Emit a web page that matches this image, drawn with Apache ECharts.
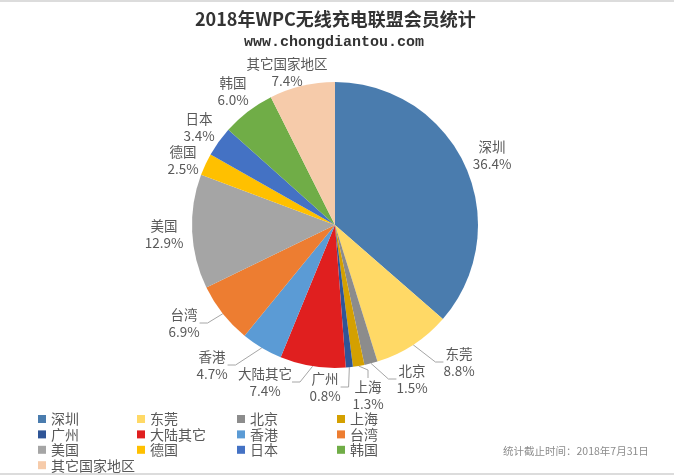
<!DOCTYPE html>
<html><head><meta charset="utf-8">
<style>html,body{margin:0;padding:0;background:#fff}#c{width:674px;height:475px}</style>
<script src="https://cdn.jsdelivr.net/npm/echarts@6/dist/echarts.min.js"></script>
</head><body><div id="c"></div>
<script>
const categories=['深圳','东莞','北京','上海','广州','大陆其它','香港','台湾','美国','德国','日本','韩国','其它国家地区'];
const shares=[36.4,8.8,1.5,1.3,0.8,7.4,4.7,6.9,12.9,2.5,3.4,6.0,7.4];
const colors=['#4a7cae','#ffd966','#8c8c8c','#d4a000','#2f5597','#e01f1f','#5b9bd5','#ed7d31','#a5a5a5','#ffc000','#4472c4','#70ad47','#f6cbaa'];
const labelSpots=[[492,155],[459,362],[412,379],[368,395],[325,387],[265,382],[212,365],[184,323],[164,234],[183,160],[199,127],[233,91],[287,72]];
const withLine=['东莞','北京','上海','广州','大陆其它','香港','台湾'];
const labelFont='"Noto Sans CJK SC",sans-serif';
const chart=echarts.init(document.getElementById('c'),null,{renderer:'canvas'});
const legendCols=[[0,4,8,12],[1,5,9],[2,6,10],[3,7,11]];
const legendX=[38,137,237,337];
chart.setOption({
  animation:false,
  backgroundColor:'#fff',
  color:colors,
  title:[
    {text:'2018年WPC无线充电联盟会员统计',left:195,top:10,padding:0,textStyle:{fontFamily:labelFont,fontSize:18,fontWeight:'bold',color:'#333'}},
    {text:'www.chongdiantou.com',left:244,top:35,padding:0,textStyle:{fontFamily:'"Liberation Mono",monospace',fontSize:15,fontWeight:'bold',color:'#333'}},
    {text:'统计截止时间：2018年7月31日',left:503,top:446,padding:0,textStyle:{fontFamily:labelFont,fontSize:10.5,fontWeight:'normal',color:'#8c8c8c'}}
  ],
  legend:legendCols.map((idx,i)=>({
    orient:'vertical',left:legendX[i],top:412,padding:0,itemWidth:8,itemHeight:8,itemGap:1.4,
    icon:'rect',selectedMode:false,
    textStyle:{fontFamily:labelFont,fontSize:14,color:'#595959',lineHeight:14},
    data:idx.map(k=>categories[k])
  })),
  graphic:[
    {type:'rect',shape:{x:0,y:0,width:674,height:2},style:{fill:'#dcdcdc'},silent:true},
    {type:'rect',shape:{x:0,y:473,width:674,height:2},style:{fill:'#dcdcdc'},silent:true}
  ],
  series:[{
    type:'pie',center:[335,225],radius:[0,143],startAngle:90,clockwise:true,
    data:categories.map((n,i)=>({name:n,value:shares[i],labelLine:{show:withLine.includes(n)}})),
    itemStyle:{borderWidth:0},
    label:{show:true,fontFamily:labelFont,fontSize:13.5,color:'#595959',lineHeight:17,
      formatter:p=>p.name+'\n'+p.value.toFixed(1)+'%'},
    labelLine:{length:8,length2:8,lineStyle:{color:'#a6a6a6',width:1}},
    labelLayout:p=>({x:labelSpots[p.dataIndex][0],y:labelSpots[p.dataIndex][1],align:'center',verticalAlign:'middle'}),
    emphasis:{disabled:true}
  }]
});
</script></body></html>
